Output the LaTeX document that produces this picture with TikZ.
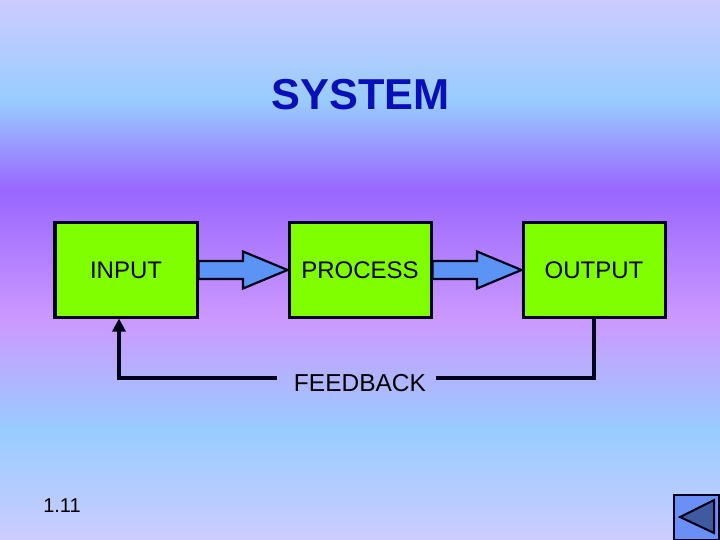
\documentclass[tikz,border=0pt]{standalone}
\usepackage{fontspec}
\setmainfont{Liberation Sans}
\usetikzlibrary{arrows.meta,positioning}
\definecolor{ink}{HTML}{000018}
\definecolor{titleblue}{HTML}{0A10B8}
\definecolor{boxgreen}{HTML}{80FF00}
\definecolor{arrowblue}{HTML}{5C94F5}
\definecolor{btnblue}{HTML}{6A90F8}
\definecolor{btndark}{HTML}{3F5A9E}
\pgfdeclareverticalshading{slidebg}{100bp}{
  rgb(0bp)=(0.80,0.80,1);
  rgb(25bp)=(0.80,0.80,1);
  rgb(35.2bp)=(0.60,0.80,1);
  rgb(45.4bp)=(0.80,0.60,1);
  rgb(57.4bp)=(0.60,0.40,1);
  rgb(65.7bp)=(0.60,0.80,1);
  rgb(75bp)=(0.80,0.80,1);
  rgb(100bp)=(0.80,0.80,1)}
\begin{document}
\begin{tikzpicture}[
  x=1bp,y=1bp,
  node distance=89bp,
  box/.style={draw=ink,fill=boxgreen,line width=3bp,minimum width=142bp,
              minimum height=94bp,inner sep=0pt,font=\fontsize{24bp}{27bp}\selectfont},
  fatarrow/.style={draw=ink,fill=arrowblue,line width=2.2bp,line join=miter,
    to path={(\tikztostart) ++(0,9bp) -- ++(44.5bp,0) -- ++(0,9.5bp) -- (\tikztotarget)
      -- ++(-44.5bp,-18.5bp) -- ++(0,9.5bp) -- ++(-44.5bp,0) -- cycle}},
  loopline/.style={draw=ink,line width=4bp},
  ar/.style={loopline,-{Triangle[length=13bp,width=13bp]}}
]
\shade[shading=slidebg] (0,-540) rectangle (720,0);
\useasboundingbox (0,-540) rectangle (720,0);

\node[font=\bfseries\fontsize{43.3bp}{50bp}\selectfont,text=titleblue] (title) at (360.5,-95) {SYSTEM};

\node[box] (input) at (126,-270) {INPUT};
\node[box,right=of input] (process) {PROCESS};
\node[box,right=of process] (output) {OUTPUT};

\draw[fatarrow] (input.east) to (process.west);
\draw[fatarrow] (process.east) to (output.west);

\node[font=\fontsize{24.5bp}{27bp}\selectfont,inner xsep=10bp] (feedback) at (360,-383) {FEEDBACK};
\coordinate (fbright) at (output.south |- 0,-378);
\coordinate (fbleft) at (119,-378);
\coordinate[left=7bp of feedback.west |- fbleft] (fbgap);
\draw[loopline] (output.south) -- (fbright) -- (feedback.east |- fbright);
\draw[ar] (fbgap) -- (fbleft) -- (fbleft |- input.south);

\node[font=\fontsize{20bp}{24bp}\selectfont] (pagenum) at (62,-506) {1.11};

\node[draw=ink,fill=btnblue,line width=2bp,minimum size=45bp,inner sep=0pt] (button) at (696,-517) {};
\draw[draw=ink,fill=btndark,line width=2bp,line join=miter] (680,-517) -- (714,-500) -- (714,-533) -- cycle;
\end{tikzpicture}
\end{document}
